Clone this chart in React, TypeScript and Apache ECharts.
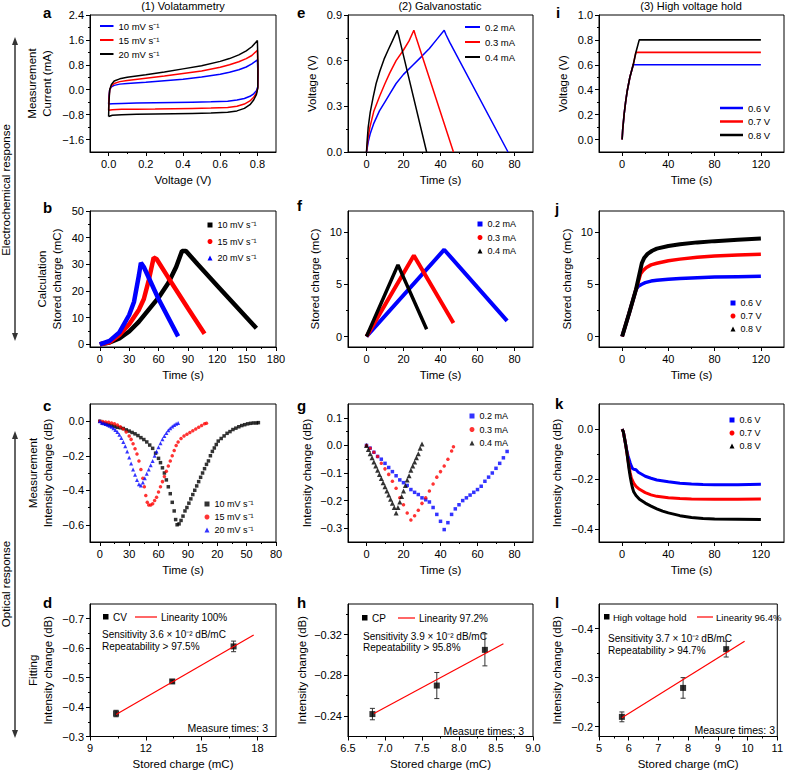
import React, { useEffect, useRef } from 'react';
import * as echarts from 'echarts';

const FONT = '"Liberation Sans", Arial, Helvetica, sans-serif';
const BLUE = '#0000ff';
const RED = '#ff0000';
const BLACK = '#000000';

// ---------------- (a) cyclic voltammetry [V, mA] ----------------
const cv10 = [[0,-0.46],[0.002,-0.2],[0.006,0],[0.015,0.09],[0.03,0.14],[0.06,0.18],[0.1,0.2],[0.2,0.24],[0.3,0.29],[0.4,0.34],[0.5,0.41],[0.6,0.5],[0.65,0.56],[0.7,0.64],[0.74,0.73],[0.77,0.83],[0.8,0.96],[0.803,0.5],[0.802,0.1],[0.795,-0.03],[0.78,-0.13],[0.76,-0.21],[0.73,-0.28],[0.69,-0.33],[0.64,-0.37],[0.55,-0.39],[0.45,-0.4],[0.35,-0.41],[0.25,-0.42],[0.15,-0.43],[0.07,-0.44],[0.02,-0.45],[0,-0.46]];
const cv15 = [[0,-0.66],[0.002,-0.3],[0.006,0],[0.015,0.12],[0.03,0.2],[0.06,0.26],[0.1,0.3],[0.2,0.37],[0.3,0.44],[0.4,0.52],[0.5,0.6],[0.6,0.72],[0.65,0.8],[0.7,0.9],[0.74,1.0],[0.77,1.1],[0.8,1.27],[0.803,0.6],[0.802,0.05],[0.795,-0.1],[0.78,-0.24],[0.76,-0.36],[0.73,-0.46],[0.69,-0.53],[0.64,-0.57],[0.55,-0.59],[0.45,-0.6],[0.35,-0.61],[0.25,-0.62],[0.15,-0.625],[0.07,-0.63],[0.02,-0.64],[0,-0.66]];
const cv20 = [[0,-0.86],[0.002,-0.4],[0.006,0],[0.015,0.17],[0.03,0.28],[0.06,0.35],[0.1,0.4],[0.2,0.48],[0.3,0.57],[0.4,0.67],[0.5,0.77],[0.6,0.91],[0.65,1.0],[0.7,1.12],[0.74,1.25],[0.77,1.38],[0.8,1.58],[0.803,0.8],[0.802,0.05],[0.795,-0.15],[0.78,-0.33],[0.76,-0.48],[0.73,-0.6],[0.69,-0.68],[0.64,-0.72],[0.55,-0.75],[0.45,-0.76],[0.35,-0.77],[0.25,-0.78],[0.15,-0.79],[0.07,-0.8],[0.02,-0.82],[0,-0.86]];

// ---------------- (b) stored charge, CV [s, mC] ----------------
const qCv10 = [[0,0],[10,0.7],[20,2.2],[30,4.8],[40,8.5],[50,13],[60,17.5],[70,23],[78,29],[84,35],[88,35],[100,30],[120,22],[140,14],[160,6]];
const qCv15 = [[0,0],[10,0.8],[20,3.5],[30,7.5],[40,13],[45,17],[50,24],[55,32.5],[58,32],[70,25],[90,13.5],[107,4]];
const qCv20 = [[0,0],[10,1.3],[20,4.5],[30,11],[35,16],[40,26],[42,30.6],[45,29],[60,17],[80,3]];

// ---------------- (c) intensity change, CV [s, dB] ----------------
const iCv10 = [[0,0],[3,-0.01],[6,-0.015],[9,-0.02],[12,-0.025],[15,-0.03],[18,-0.035],[21,-0.038],[24,-0.042],[27,-0.05],[30,-0.057],[33,-0.065],[36,-0.073],[39,-0.083],[42,-0.095],[45,-0.106],[48,-0.12],[51,-0.138],[54,-0.157],[57,-0.185],[60,-0.215],[62,-0.24],[64,-0.27],[66,-0.3],[68,-0.34],[70,-0.38],[72,-0.42],[74,-0.47],[76,-0.52],[77.5,-0.57],[79,-0.6],[81,-0.595],[83,-0.575],[85,-0.55],[87,-0.52],[89,-0.5],[91,-0.475],[93,-0.45],[95,-0.425],[97,-0.4],[99,-0.375],[101,-0.35],[103,-0.325],[105,-0.3],[107,-0.275],[109,-0.25],[111,-0.23],[113,-0.2],[115,-0.175],[117,-0.155],[119,-0.135],[121,-0.115],[124,-0.1],[127,-0.085],[130,-0.07],[133,-0.06],[136,-0.048],[139,-0.04],[142,-0.032],[145,-0.025],[148,-0.02],[151,-0.015],[154,-0.012],[157,-0.01],[160,-0.01],[162,-0.008]];
const iCv15 = [[0,0],[3,-0.002],[6,-0.004],[9,-0.006],[12,-0.01],[15,-0.015],[18,-0.022],[21,-0.032],[24,-0.045],[27,-0.062],[30,-0.085],[32,-0.105],[34,-0.13],[36,-0.16],[38,-0.19],[40,-0.23],[42,-0.28],[44,-0.33],[45.5,-0.38],[47,-0.43],[48.5,-0.47],[50,-0.485],[52,-0.485],[54,-0.478],[56,-0.46],[58,-0.44],[60,-0.41],[62,-0.38],[64,-0.35],[66,-0.32],[68,-0.29],[70,-0.26],[72,-0.23],[74,-0.2],[76,-0.17],[78,-0.14],[80,-0.12],[83,-0.1],[86,-0.085],[89,-0.075],[92,-0.065],[95,-0.055],[98,-0.045],[101,-0.035],[104,-0.025],[107,-0.015],[109,-0.012]];
const iCv20 = [[0,0],[2,-0.008],[4,-0.012],[6,-0.016],[8,-0.02],[10,-0.026],[12,-0.032],[14,-0.04],[16,-0.05],[18,-0.062],[20,-0.078],[22,-0.097],[24,-0.12],[26,-0.145],[28,-0.175],[30,-0.21],[32,-0.245],[34,-0.28],[36,-0.31],[38,-0.34],[40,-0.365],[42,-0.372],[44,-0.355],[46,-0.33],[48,-0.305],[50,-0.28],[52,-0.255],[54,-0.23],[56,-0.2],[58,-0.175],[60,-0.15],[62,-0.127],[64,-0.105],[66,-0.085],[68,-0.068],[70,-0.052],[72,-0.04],[74,-0.03],[76,-0.022],[78,-0.014],[80,-0.01]];

// ---------------- (d) fitting CV ----------------
const cvCharge = [10.4, 13.42, 16.72];
const cvIntensity = [-0.378, -0.487, -0.606];
const cvError = [0.011, 0.005, 0.018];
const cvFit = [[10.4, -0.375], [17.8, -0.645]];

// ---------------- (e) galvanostatic voltage [s, V] ----------------
const vGs02 = [[0,0],[1,0.07],[2,0.12],[4,0.19],[7,0.27],[10,0.33],[13,0.39],[16,0.45],[20,0.51],[25,0.57],[30,0.63],[34,0.68],[38,0.74],[42,0.8],[43,0.77],[45,0.72],[76.5,0]];
const vGs03 = [[0,0],[0.8,0.09],[1.8,0.16],[4,0.27],[7.2,0.37],[10,0.45],[12.6,0.52],[16,0.6],[20,0.67],[23,0.73],[25.6,0.8],[26.6,0.76],[47,0]];
const vGs04 = [[0,0],[0.4,0.08],[0.9,0.16],[2,0.26],[3.6,0.36],[5.2,0.45],[7.2,0.53],[9.5,0.61],[11.7,0.67],[14,0.73],[16.6,0.8],[17.5,0.76],[32.5,0]];

// ---------------- (f) stored charge, galvanostatic ----------------
const qGs02 = [[0,0],[42,8.3],[76,1.5]];
const qGs03 = [[0,0],[25.6,7.75],[47,1.3]];
const qGs04 = [[0,0],[17,6.85],[32.5,0.7]];

// ---------------- (g) intensity change, galvanostatic ----------------
const iGs02 = [[0,0],[2,-0.01],[4,-0.025],[6,-0.04],[8,-0.05],[10,-0.065],[12,-0.08],[14,-0.095],[16,-0.11],[18,-0.125],[20,-0.135],[22,-0.145],[24,-0.16],[26,-0.17],[28,-0.178],[30,-0.19],[32,-0.197],[34,-0.205],[36,-0.225],[38,-0.25],[40,-0.275],[42,-0.305],[44,-0.28],[46,-0.25],[48,-0.23],[50,-0.215],[52,-0.2],[54,-0.19],[56,-0.18],[58,-0.17],[60,-0.16],[62,-0.148],[64,-0.13],[66,-0.115],[68,-0.1],[70,-0.083],[72,-0.065],[74,-0.045],[76,-0.022]];
const iGs03 = [[0,0],[2,-0.01],[4,-0.025],[6,-0.04],[8,-0.065],[10,-0.085],[12,-0.105],[14,-0.13],[16,-0.155],[18,-0.19],[20,-0.215],[22,-0.245],[24,-0.27],[26,-0.255],[28,-0.235],[30,-0.21],[32,-0.19],[34,-0.165],[36,-0.14],[38,-0.115],[40,-0.095],[42,-0.075],[44,-0.05],[46,-0.02],[47,-0.005]];
const iGs04 = [[0,0],[1,-0.015],[2,-0.03],[3,-0.045],[4,-0.06],[5,-0.075],[6,-0.09],[7,-0.105],[8,-0.12],[9,-0.135],[10,-0.15],[11,-0.165],[12,-0.18],[13,-0.195],[14,-0.21],[15,-0.225],[16,-0.245],[17,-0.225],[18,-0.205],[19,-0.185],[20,-0.165],[21,-0.145],[22,-0.125],[23,-0.11],[24,-0.09],[25,-0.075],[26,-0.06],[27,-0.045],[28,-0.03],[29,-0.01],[30,0.005]];

// ---------------- (h) fitting CP ----------------
const cpCharge = [6.83, 7.7, 8.35];
const cpIntensity = [-0.242, -0.27, -0.305];
const cpError = [0.0056, 0.0128, 0.0157];
const cpFit = [[6.85, -0.2425], [8.6, -0.311]];

// ---------------- (i) high voltage hold [s, V] ----------------
const vHv06 = [[0,0],[0.5,0.08],[1.7,0.2],[3,0.3],[4.4,0.39],[6.7,0.5],[9.6,0.6],[120,0.6]];
const vHv07 = [[0,0],[0.5,0.08],[1.7,0.2],[3,0.3],[4.4,0.39],[6.7,0.5],[9.6,0.6],[11.9,0.7],[120,0.7]];
const vHv08 = [[0,0],[0.5,0.08],[1.7,0.2],[3,0.3],[4.4,0.39],[6.7,0.5],[9.6,0.6],[11.9,0.7],[14.8,0.8],[120,0.8]];

// ---------------- (j) stored charge, high voltage hold ----------------
const qHv06 = [[0,0],[6,2.2],[12,4.5],[14,4.8],[17,5.0],[20,5.15],[25,5.3],[30,5.38],[40,5.48],[50,5.55],[65,5.62],[80,5.68],[100,5.72],[120,5.76]];
const qHv07 = [[0,0],[6,2.2],[12,4.5],[16,6.0],[18,6.3],[21,6.6],[25,6.85],[30,7.0],[40,7.25],[50,7.4],[65,7.58],[80,7.7],[100,7.8],[120,7.86]];
const qHv08 = [[0,0],[6,2.2],[12,4.5],[17,7.0],[19,7.5],[22,7.9],[26,8.2],[30,8.4],[40,8.65],[50,8.82],[65,9.0],[80,9.12],[100,9.25],[120,9.37]];

// ---------------- (k) intensity change, high voltage hold ----------------
const iHv06 = [[0,0],[1,-0.01],[2,-0.035],[3,-0.06],[4,-0.085],[5,-0.105],[6,-0.12],[7,-0.135],[8,-0.148],[9,-0.158],[10,-0.16],[12,-0.162],[14,-0.172],[17,-0.18],[20,-0.188],[25,-0.196],[30,-0.203],[40,-0.21],[50,-0.216],[60,-0.219],[70,-0.221],[80,-0.222],[90,-0.222],[100,-0.222],[110,-0.221],[120,-0.22]];
const iHv07 = [[0,0],[1,-0.01],[2,-0.035],[3,-0.06],[4,-0.09],[5,-0.12],[6,-0.15],[7,-0.175],[8,-0.195],[9,-0.205],[10,-0.215],[12,-0.228],[15,-0.24],[20,-0.253],[25,-0.262],[30,-0.268],[40,-0.274],[50,-0.277],[60,-0.279],[80,-0.28],[100,-0.28],[120,-0.279]];
const iHv08 = [[0,0],[1,-0.01],[2,-0.035],[3,-0.06],[4,-0.09],[5,-0.125],[6,-0.16],[7,-0.19],[8,-0.215],[9,-0.235],[10,-0.25],[12,-0.265],[15,-0.28],[20,-0.295],[25,-0.307],[30,-0.318],[35,-0.327],[40,-0.334],[50,-0.345],[60,-0.352],[70,-0.356],[80,-0.358],[100,-0.359],[120,-0.36]];

// ---------------- (l) fitting high voltage hold ----------------
const hvCharge = [5.77, 7.83, 9.28];
const hvIntensity = [-0.22, -0.279, -0.358];
const hvError = [0.01, 0.021, 0.016];
const hvFit = [[5.77, -0.218], [9.9, -0.374]];

// legend labels
const LABELS: Record<string, string> = {
  a10: '10 mV s⁻¹', a15: '15 mV s⁻¹', a20: '20 mV s⁻¹',
  b10: '10 mV s⁻¹', b15: '15 mV s⁻¹', b20: '20 mV s⁻¹',
  c10: '10 mV s⁻¹', c15: '15 mV s⁻¹', c20: '20 mV s⁻¹',
  e02: '0.2 mA', e03: '0.3 mA', e04: '0.4 mA',
  f02: '0.2 mA', f03: '0.3 mA', f04: '0.4 mA',
  g02: '0.2 mA', g03: '0.3 mA', g04: '0.4 mA',
  i06: '0.6 V', i07: '0.7 V', i08: '0.8 V',
  j06: '0.6 V', j07: '0.7 V', j08: '0.8 V',
  k06: '0.6 V', k07: '0.7 V', k08: '0.8 V',
};

const minus = (s: string) => s.replace('-', '\u2212');
const fx = (d: number) => (v: number) => minus(Number(v).toFixed(d));
const cTime = (v: number) => String(v >= 100 ? v - 100 : v);

type Ax = { min: number; max: number; ticks: number[]; minor: number[]; fmt: (v: number) => string; name: string; gap: number; inverse?: boolean };
type Panel = { left: number; top: number; w: number; h: number; x: Ax; y: Ax };

const T_CV = [0, 30, 60, 90, 120, 150, 180];
const T_CV_MINOR = [15, 45, 75, 105, 135, 165];
const T_GS = [0, 20, 40, 60, 80];
const T_GS_MINOR = [10, 30, 50, 70];
const T_HV = [0, 40, 80, 120];
const T_HV_MINOR = [20, 60, 100];

const xCv = (fmt: (v: number) => string): Ax => ({ min: -10, max: 180, ticks: T_CV, minor: T_CV_MINOR, fmt, name: 'Time (s)', gap: 20 });
const xGs = (): Ax => ({ min: -10, max: 90, ticks: T_GS, minor: T_GS_MINOR, fmt: fx(0), name: 'Time (s)', gap: 20 });
const xHv = (): Ax => ({ min: -20, max: 140, ticks: T_HV, minor: T_HV_MINOR, fmt: fx(0), name: 'Time (s)', gap: 20 });

// panel order: a e i b f j c g k d h l
const PANELS: Panel[] = [
  { left: 90, top: 15, w: 186, h: 137,
    x: { min: -0.1, max: 0.9, ticks: [0, 0.2, 0.4, 0.6, 0.8], minor: [0.1, 0.3, 0.5, 0.7], fmt: fx(1), name: 'Voltage (V)', gap: 20 },
    y: { min: -2.0, max: 2.4, ticks: [-1.6, -0.8, 0, 0.8, 1.6, 2.4], minor: [-1.2, -0.4, 0.4, 1.2, 2.0], fmt: fx(1), name: 'Measurement\nCurrent (mA)', gap: 35 } },
  { left: 348, top: 15, w: 185, h: 137, x: xGs(),
    y: { min: 0, max: 0.9, ticks: [0, 0.3, 0.6, 0.9], minor: [0.15, 0.45, 0.75], fmt: fx(1), name: 'Voltage (V)', gap: 28 } },
  { left: 599, top: 15, w: 185, h: 137, x: xHv(),
    y: { min: -0.1, max: 1.0, ticks: [0, 0.2, 0.4, 0.6, 0.8, 1.0], minor: [0.1, 0.3, 0.5, 0.7, 0.9], fmt: fx(1), name: 'Voltage (V)', gap: 28 } },
  { left: 90, top: 211, w: 186, h: 136, x: xCv(fx(0)),
    y: { min: -1, max: 50, ticks: [0, 10, 20, 30, 40, 50], minor: [5, 15, 25, 35, 45], fmt: fx(0), name: 'Calculation\nStored charge (mC)', gap: 25 } },
  { left: 348, top: 211, w: 185, h: 136, x: xGs(),
    y: { min: -1, max: 12, ticks: [0, 5, 10], minor: [2.5, 7.5], fmt: fx(0), name: 'Stored charge (mC)', gap: 25 } },
  { left: 599, top: 211, w: 185, h: 136, x: xHv(),
    y: { min: -1, max: 12, ticks: [0, 5, 10], minor: [2.5, 7.5], fmt: fx(0), name: 'Stored charge (mC)', gap: 24 } },
  { left: 90, top: 404, w: 186, h: 138, x: xCv(cTime),
    y: { min: -0.7, max: 0.1, ticks: [-0.6, -0.4, -0.2, 0], minor: [-0.5, -0.3, -0.1], fmt: fx(1), name: 'Measurement\nIntensity change (dB)', gap: 34 } },
  { left: 348, top: 404, w: 185, h: 138, x: xGs(),
    y: { min: -0.35, max: 0.15, ticks: [-0.3, -0.2, -0.1, 0, 0.1], minor: [-0.25, -0.15, -0.05, 0.05], fmt: fx(1), name: 'Intensity change (dB)', gap: 33 } },
  { left: 599, top: 404, w: 185, h: 138, x: xHv(),
    y: { min: -0.45, max: 0.1, ticks: [-0.4, -0.2, 0], minor: [-0.3, -0.1], fmt: fx(1), name: 'Intensity change (dB)', gap: 34 } },
  { left: 90, top: 604, w: 186, h: 137,
    x: { min: 9, max: 19, ticks: [9, 12, 15, 18], minor: [10.5, 13.5, 16.5], fmt: fx(0), name: 'Stored charge (mC)', gap: 20 },
    y: { min: -0.75, max: -0.3, inverse: true, ticks: [-0.7, -0.6, -0.5, -0.4, -0.3], minor: [-0.65, -0.55, -0.45, -0.35], fmt: fx(1), name: 'Fitting\nIntensity change (dB)', gap: 34 } },
  { left: 348, top: 604, w: 185, h: 137,
    x: { min: 6.5, max: 9.0, ticks: [6.5, 7.0, 7.5, 8.0, 8.5, 9.0], minor: [6.75, 7.25, 7.75, 8.25, 8.75], fmt: fx(1), name: 'Stored charge (mC)', gap: 20 },
    y: { min: -0.35, max: -0.22, inverse: true, ticks: [-0.32, -0.28, -0.24], minor: [-0.34, -0.3, -0.26], fmt: fx(2), name: 'Intensity change (dB)', gap: 38 } },
  { left: 599, top: 604, w: 186, h: 137,
    x: { min: 5, max: 11, ticks: [5, 6, 7, 8, 9, 10, 11], minor: [5.5, 6.5, 7.5, 8.5, 9.5, 10.5], fmt: fx(0), name: 'Stored charge (mC)', gap: 20 },
    y: { min: -0.45, max: -0.18, inverse: true, ticks: [-0.4, -0.3, -0.2], minor: [-0.35, -0.25], fmt: fx(1), name: 'Intensity change (dB)', gap: 34 } },
];

const mainAxis = (a: Ax, gi: number, isY: boolean) => ({
  type: 'value', gridIndex: gi, position: isY ? 'left' : 'bottom',
  min: a.min, max: a.max, inverse: !!a.inverse,
  name: a.name, nameLocation: 'middle', nameGap: a.gap, nameRotate: isY ? 90 : 0,
  nameTextStyle: { fontSize: 11.5, color: '#000', lineHeight: 15.5, fontFamily: FONT },
  axisLine: { show: true, onZero: false, lineStyle: { color: '#000', width: 1 } },
  axisTick: { show: true, inside: false, length: 4, customValues: a.ticks, lineStyle: { color: '#000', width: 1 } },
  axisLabel: { show: true, customValues: a.ticks, formatter: a.fmt, margin: 6, fontSize: 11, color: '#000', fontFamily: FONT, hideOverlap: false },
  splitLine: { show: false },
});
const minorAxis = (a: Ax, gi: number, isY: boolean) => ({
  type: 'value', gridIndex: gi, position: isY ? 'left' : 'bottom',
  min: a.min, max: a.max, inverse: !!a.inverse,
  axisLine: { show: false, onZero: false },
  axisTick: { show: true, inside: false, length: 2, customValues: a.minor, lineStyle: { color: '#000', width: 1 } },
  axisLabel: { show: false },
  splitLine: { show: false },
});

const ax = (gi: number) => ({ xAxisIndex: gi * 2, yAxisIndex: gi * 2 });

const lineS = (gi: number, name: string, data: number[][], color: string, width: number) => ({
  type: 'line', name, ...ax(gi), data, color, symbol: 'none', showSymbol: false,
  lineStyle: { color, width }, itemStyle: { color }, clip: true,
});
const scatS = (gi: number, name: string, data: number[][], color: string, symbol: string, size: number) => ({
  type: 'scatter', name, ...ax(gi), data, color, symbol, symbolSize: size, itemStyle: { color },
});
const errS = (gi: number, xs: number[], ys: number[], es: number[]) => ({
  type: 'custom', ...ax(gi), data: xs.map((x, k) => [x, ys[k], es[k]]),
  renderItem: (params: any, api: any) => {
    const x = api.value(0), y = api.value(1), e = api.value(2);
    const p1 = api.coord([x, y + e]);
    const p2 = api.coord([x, y - e]);
    const c = 2.5;
    const st = { stroke: '#333', lineWidth: 1 };
    return { type: 'group', children: [
      { type: 'line', shape: { x1: p1[0], y1: p1[1], x2: p2[0], y2: p2[1] }, style: st },
      { type: 'line', shape: { x1: p1[0] - c, y1: p1[1], x2: p1[0] + c, y2: p1[1] }, style: st },
      { type: 'line', shape: { x1: p2[0] - c, y1: p2[1], x2: p2[0] + c, y2: p2[1] }, style: st },
    ] };
  },
});

const legendBox = (left: number, top: number, names: string[], icons: string[], w: number, h: number, gap: number, fs = 9.5) => ({
  left, top, orient: 'vertical', padding: 0, itemGap: gap, itemWidth: w, itemHeight: h,
  selectedMode: false,
  data: names.map((n, k) => ({ name: n, icon: icons[k] })),
  formatter: (n: string) => LABELS[n] || n,
  textStyle: { fontSize: fs, color: '#000', fontFamily: FONT, lineHeight: 10 },
});

const txt = (x: number, y: number, text: string, size: number, align = 'left', weight = 'normal', extra: any = {}) => ({
  type: 'text', x, y, silent: true, ...extra,
  style: { text, fill: '#000', font: `${weight} ${size}px ${FONT}`, textAlign: align, textVerticalAlign: 'middle' },
});

function buildOption() {
  const grid: any[] = [];
  const xAxis: any[] = [];
  const yAxis: any[] = [];
  PANELS.forEach((p, i) => {
    grid.push({ left: p.left, top: p.top, width: p.w, height: p.h, show: true, borderColor: '#000', borderWidth: 1, backgroundColor: 'transparent' });
    xAxis.push(mainAxis(p.x, i, false), minorAxis(p.x, i, false));
    yAxis.push(mainAxis(p.y, i, true), minorAxis(p.y, i, true));
  });

  const series: any[] = [
    // a
    lineS(0, 'a10', cv10, BLUE, 1.5), lineS(0, 'a15', cv15, RED, 1.5), lineS(0, 'a20', cv20, BLACK, 1.5),
    // e
    lineS(1, 'e02', vGs02, BLUE, 1.5), lineS(1, 'e03', vGs03, RED, 1.5), lineS(1, 'e04', vGs04, BLACK, 1.5),
    // i
    lineS(2, 'i06', vHv06, BLUE, 1.6), lineS(2, 'i07', vHv07, RED, 1.6), lineS(2, 'i08', vHv08, BLACK, 1.6),
    // b
    lineS(3, 'b10', qCv10, BLACK, 4.5), lineS(3, 'b15', qCv15, RED, 4.5), lineS(3, 'b20', qCv20, BLUE, 4.5),
    // f
    lineS(4, 'f02', qGs02, BLUE, 4), lineS(4, 'f03', qGs03, RED, 4), lineS(4, 'f04', qGs04, BLACK, 3.5),
    // j
    lineS(5, 'j06', qHv06, BLUE, 3.5), lineS(5, 'j07', qHv07, RED, 3.5), lineS(5, 'j08', qHv08, BLACK, 4),
    // c
    scatS(6, 'c10', iCv10, BLACK, 'rect', 3.5), scatS(6, 'c15', iCv15, RED, 'circle', 3.5), scatS(6, 'c20', iCv20, BLUE, 'triangle', 4),
    // g
    scatS(7, 'g02', iGs02, BLUE, 'rect', 3.5), scatS(7, 'g03', iGs03, RED, 'circle', 3.5), scatS(7, 'g04', iGs04, BLACK, 'triangle', 5),
    // k
    lineS(8, 'k06', iHv06, BLUE, 3), lineS(8, 'k07', iHv07, RED, 3), lineS(8, 'k08', iHv08, BLACK, 3),
    // d
    lineS(9, 'dFit', cvFit, RED, 1.2), errS(9, cvCharge, cvIntensity, cvError),
    { type: 'scatter', name: 'dPts', ...ax(9), data: cvCharge.map((x, k) => [x, cvIntensity[k]]), symbol: 'rect', symbolSize: 6, itemStyle: { color: BLACK } },
    // h
    lineS(10, 'hFit', cpFit, RED, 1.2), errS(10, cpCharge, cpIntensity, cpError),
    { type: 'scatter', name: 'hPts', ...ax(10), data: cpCharge.map((x, k) => [x, cpIntensity[k]]), symbol: 'rect', symbolSize: 6, itemStyle: { color: BLACK } },
    // l
    lineS(11, 'lFit', hvFit, RED, 1.2), errS(11, hvCharge, hvIntensity, hvError),
    { type: 'scatter', name: 'lPts', ...ax(11), data: hvCharge.map((x, k) => [x, hvIntensity[k]]), symbol: 'rect', symbolSize: 6, itemStyle: { color: BLACK } },
  ];

  const R3 = ['rect', 'rect', 'rect'];
  const SYM = ['rect', 'circle', 'triangle'];
  const legend = [
    legendBox(100, 21, ['a10', 'a15', 'a20'], R3, 13.5, 2, 4),
    legendBox(465, 22, ['e02', 'e03', 'e04'], R3, 15, 2, 5),
    legendBox(720, 103, ['i06', 'i07', 'i08'], R3, 23, 2.5, 3.5),
    legendBox(207.5, 220, ['b10', 'b15', 'b20'], SYM, 5, 5, 6.5, 9),
    legendBox(477.5, 219, ['f02', 'f03', 'f04'], SYM, 5, 5, 3.5, 9),
    legendBox(730.5, 298, ['j06', 'j07', 'j08'], SYM, 5, 5, 3, 9),
    legendBox(204.5, 499, ['c10', 'c15', 'c20'], SYM, 5, 5, 3, 9),
    legendBox(469.5, 411, ['g02', 'g03', 'g04'], SYM, 5, 5, 3.5, 9),
    legendBox(729.5, 415, ['k06', 'k07', 'k08'], SYM, 5, 5, 3, 9),
  ];

  const arrowStyle = { stroke: '#333', lineWidth: 1.5 };
  const graphic: any[] = [
    // column titles
    txt(183, 6, '(1) Volatammetry', 11, 'center'),
    txt(440, 6, '(2) Galvanostatic', 11, 'center'),
    txt(691, 6, '(3) High voltage hold', 11, 'center'),
    // panel letters
    txt(43, 12, 'a', 15, 'left', 'bold'), txt(297, 12, 'e', 15, 'left', 'bold'), txt(556, 12, 'i', 15, 'left', 'bold'),
    txt(43, 207, 'b', 15, 'left', 'bold'), txt(297, 205, 'f', 15, 'left', 'bold'), txt(555, 208, 'j', 15, 'left', 'bold'),
    txt(43, 405, 'c', 15, 'left', 'bold'), txt(297, 405, 'g', 15, 'left', 'bold'), txt(555, 403, 'k', 15, 'left', 'bold'),
    txt(43, 602, 'd', 15, 'left', 'bold'), txt(297, 602, 'h', 15, 'left', 'bold'), txt(555, 602, 'l', 15, 'left', 'bold'),
    // left arrows
    { type: 'line', shape: { x1: 15, y1: 42, x2: 15, y2: 336 }, style: arrowStyle, silent: true },
    { type: 'polygon', shape: { points: [[15, 37], [12, 45], [18, 45]] }, style: { fill: '#333' }, silent: true },
    { type: 'polygon', shape: { points: [[15, 341], [12, 333], [18, 333]] }, style: { fill: '#333' }, silent: true },
    txt(6, 190, 'Electrochemical response', 11.5, 'center', 'normal', { rotation: Math.PI / 2 }),
    { type: 'line', shape: { x1: 15, y1: 436, x2: 15, y2: 733 }, style: arrowStyle, silent: true },
    { type: 'polygon', shape: { points: [[15, 431], [12, 439], [18, 439]] }, style: { fill: '#333' }, silent: true },
    { type: 'polygon', shape: { points: [[15, 738], [12, 730], [18, 730]] }, style: { fill: '#333' }, silent: true },
    txt(6, 584, 'Optical response', 11.5, 'center', 'normal', { rotation: Math.PI / 2 }),
    // d legend & notes
    { type: 'rect', shape: { x: 103, y: 614, width: 5.5, height: 5.5 }, style: { fill: '#000' }, silent: true },
    txt(113, 617, 'CV', 10),
    { type: 'line', shape: { x1: 135, y1: 617, x2: 157, y2: 617 }, style: { stroke: RED, lineWidth: 1.2 }, silent: true },
    txt(161, 617, 'Linearity 100%', 10),
    txt(102, 634, 'Sensitivity 3.6 × 10⁻² dB/mC', 10),
    txt(102, 646, 'Repeatability > 97.5%', 10),
    txt(268, 728, 'Measure times: 3', 10.5, 'right'),
    // h legend & notes
    { type: 'rect', shape: { x: 362, y: 615, width: 5.5, height: 5.5 }, style: { fill: '#000' }, silent: true },
    txt(372, 618, 'CP', 10),
    { type: 'line', shape: { x1: 398, y1: 618, x2: 415, y2: 618 }, style: { stroke: RED, lineWidth: 1.2 }, silent: true },
    txt(419, 618, 'Linearity 97.2%', 10),
    txt(363, 636, 'Sensitivity 3.9 × 10⁻² dB/mC', 10),
    txt(363, 647, 'Repeatability > 95.8%', 10),
    txt(524, 731, 'Measure times: 3', 10.5, 'right'),
    // l legend & notes
    { type: 'rect', shape: { x: 604, y: 614, width: 5.5, height: 5.5 }, style: { fill: '#000' }, silent: true },
    txt(613, 617, 'High voltage hold', 9.5),
    { type: 'line', shape: { x1: 697, y1: 617, x2: 713, y2: 617 }, style: { stroke: RED, lineWidth: 1.2 }, silent: true },
    txt(716, 617, 'Linearity 96.4%', 9.5),
    txt(608, 638, 'Sensitivity 3.7 × 10⁻² dB/mC', 10),
    txt(608, 650, 'Repeatability > 94.7%', 10),
    txt(775, 730, 'Measure times: 3', 10.5, 'right'),
  ];

  return {
    animation: false,
    backgroundColor: '#ffffff',
    textStyle: { fontFamily: FONT, color: '#000' },
    grid, xAxis, yAxis, series, legend, graphic,
  };
}

export default function App() {
  const ref = useRef<HTMLDivElement | null>(null);
  useEffect(() => {
    if (!ref.current) return;
    const chart = echarts.init(ref.current, undefined, { renderer: 'svg' });
    chart.setOption(buildOption() as any);
    return () => chart.dispose();
  }, []);
  return <div ref={ref} style={{ position: 'absolute', left: 0, top: 0, width: 786, height: 773, background: '#fff' }} />;
}
